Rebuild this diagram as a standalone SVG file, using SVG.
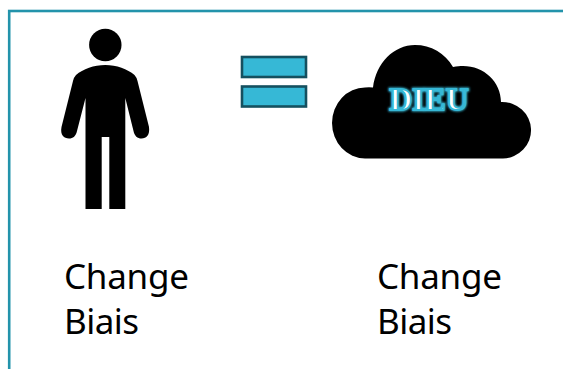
<svg xmlns="http://www.w3.org/2000/svg" width="563" height="369" viewBox="0 0 563 369">
<style>
.t{font-family:"Noto Sans",sans-serif;font-size:35px;fill:#000}
.b{fill:#36b8d6;stroke:#15505f;stroke-width:2.6}
.d{font-family:"Liberation Serif",serif;font-weight:700;font-size:31.500px}
</style>
<defs><filter id="g" x="-20%" y="-40%" width="140%" height="180%"><feGaussianBlur stdDeviation="1"/></filter></defs>
<rect width="563" height="369" fill="#fff"/>
<rect x="9.2" y="11" width="570" height="370" fill="none" stroke="#2393ab" stroke-width="2.6"/>
<g id="person">
<circle cx="105.3" cy="45" r="16.2"/>
<path d="M105.300 65C94 65 83 69 76 75Q73.700 77.500 73 81L61.500 127C60 135 64 138.500 69 138.500C73 138.500 76 136 77 131L85.500 98V209H101.700V137H109.300V209H125.300V98L133.500 131C134.500 136 137.500 138.500 141.500 138.500C146.500 138.500 150 135 149 127L137.500 81Q136.800 77.500 134.500 75C127.500 69 116.500 65 105.300 65Z"/>
</g>
<g id="equals">
<rect class="b" x="242" y="57" width="64" height="20"/>
<rect class="b" x="242" y="86.500" width="64" height="20"/>
</g>
<g id="cloud">
<path d="M365 158.500A33 35.500 0 0 1 365 87.500Q369 87 373 87.500C376 63 394 45 415 45C431 45 445 53 453 67C457 66 460 66 463 66C484 66 501 82 501 102A29 28.200 0 0 1 503 158.500Z"/>
<text class="d" x="429" y="110" text-anchor="middle" fill="none" stroke="#36b8d6" stroke-width="3.200" filter="url(#g)">DIEU</text>
<text class="d" x="429" y="110" text-anchor="middle" fill="#fff" stroke="#36b8d6" stroke-width="1.800">DIEU</text>
</g>
<g id="label-left"><text class="t" x="64" y="288.500" textLength="125">Change</text><text class="t" x="64" y="334" textLength="75">Biais</text></g>
<g id="label-right"><text class="t" x="377" y="288.500" textLength="125">Change</text><text class="t" x="377" y="334" textLength="75">Biais</text></g>
</svg>
